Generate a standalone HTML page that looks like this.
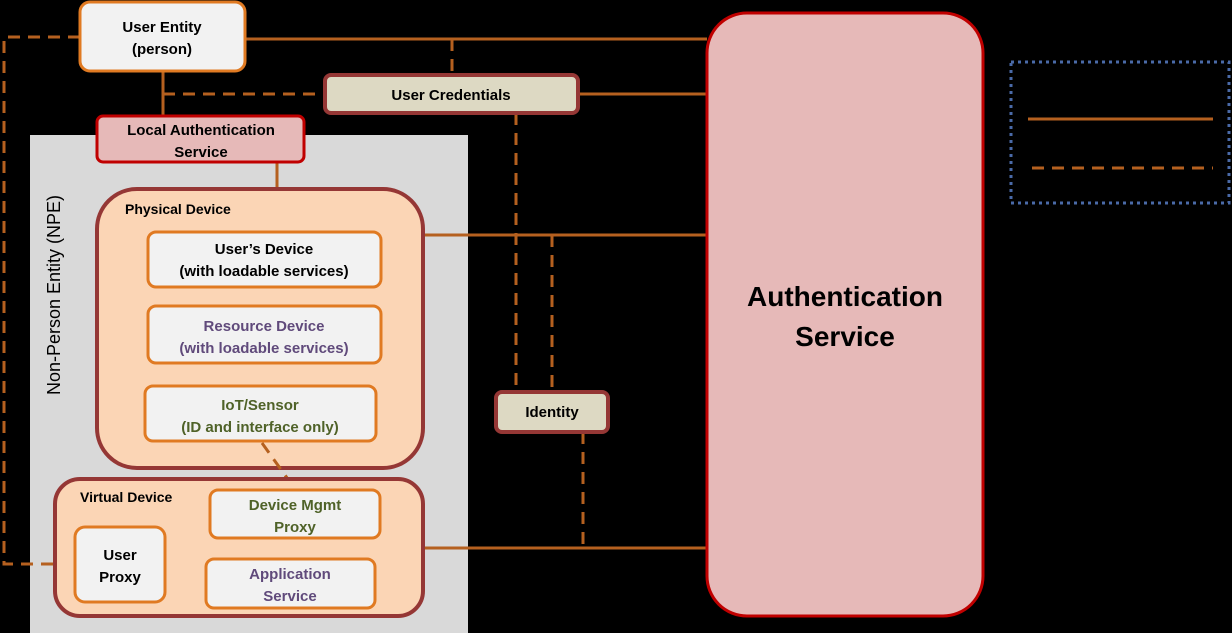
<!DOCTYPE html>
<html><head><meta charset="utf-8"><style>
html,body{margin:0;padding:0;background:#000;}
svg{display:block;}
text{font-family:"Liberation Sans",sans-serif;font-weight:bold;}
</style></head><body>
<svg width="1232" height="633" viewBox="0 0 1232 633" xmlns="http://www.w3.org/2000/svg">
<rect width="1232" height="633" fill="#000"/>
<!-- gray NPE -->
<rect x="30" y="135" width="438" height="498" fill="#d9d9d9"/>
<!-- lines -->
<g stroke="#b5601f" stroke-width="3" fill="none">
<line x1="245" y1="39" x2="707" y2="39"/>
<line x1="163" y1="71" x2="163" y2="116"/>
<line x1="578" y1="94" x2="707" y2="94"/>
<line x1="277" y1="162" x2="277" y2="232"/>
<line x1="423" y1="235" x2="707" y2="235"/>
<line x1="423" y1="548" x2="707" y2="548"/>
<line x1="1028" y1="119" x2="1213" y2="119"/>
</g>
<g stroke="#b5601f" stroke-width="3" fill="none" stroke-dasharray="12,8">
<line x1="452" y1="39" x2="452" y2="75"/>
<line x1="163" y1="94" x2="325" y2="94"/>
<polyline points="80,37 4,37 4,564 75,564"/>
<line x1="516" y1="113" x2="516" y2="392"/>
<line x1="552" y1="235" x2="552" y2="392"/>
<line x1="583" y1="432" x2="583" y2="548"/>
<line x1="262" y1="443" x2="292" y2="485"/>
<line x1="1032" y1="168" x2="1213" y2="168"/>
</g>
<!-- legend -->
<rect x="1011" y="62" width="218" height="141" fill="none" stroke="#4a6aa8" stroke-width="3" stroke-dasharray="3,4"/>
<!-- Auth service -->
<rect x="707" y="13" width="276" height="603" rx="40" fill="#e6b9b8" stroke="#c00000" stroke-width="3"/>
<text x="845" y="306" font-size="28" text-anchor="middle" fill="#000">Authentication</text>
<text x="845" y="346" font-size="28" text-anchor="middle" fill="#000">Service</text>
<!-- User Entity -->
<rect x="80" y="2" width="165" height="69" rx="10" fill="#f2f2f2" stroke="#e07a22" stroke-width="3"/>
<text x="162" y="32" font-size="15" text-anchor="middle">User Entity</text>
<text x="162" y="54" font-size="15" text-anchor="middle">(person)</text>
<!-- User Credentials -->
<rect x="325" y="75" width="253" height="38" rx="6" fill="#ddd9c3" stroke="#953735" stroke-width="4"/>
<text x="451" y="100" font-size="15" text-anchor="middle">User Credentials</text>
<!-- Local Auth -->
<rect x="97" y="116" width="207" height="46" rx="6" fill="#e6b9b8" stroke="#c00000" stroke-width="3"/>
<text x="201" y="135" font-size="15" text-anchor="middle">Local Authentication</text>
<text x="201" y="157" font-size="15" text-anchor="middle">Service</text>
<!-- NPE label -->
<text transform="translate(60,295) rotate(-90)" font-size="18" font-weight="normal" text-anchor="middle" style="font-weight:normal">Non-Person Entity (NPE)</text>
<!-- Physical Device -->
<rect x="97" y="189" width="326" height="279" rx="40" fill="#fbd5b5" stroke="#953735" stroke-width="4"/>
<text x="125" y="214" font-size="14">Physical Device</text>
<rect x="148" y="232" width="233" height="55" rx="8" fill="#f2f2f2" stroke="#e07a22" stroke-width="3"/>
<text x="264" y="254" font-size="15" text-anchor="middle">User’s Device</text>
<text x="264" y="276" font-size="15" text-anchor="middle">(with loadable services)</text>
<rect x="148" y="306" width="233" height="57" rx="8" fill="#f2f2f2" stroke="#e07a22" stroke-width="3"/>
<text x="264" y="331" font-size="15" text-anchor="middle" fill="#604a7b">Resource Device</text>
<text x="264" y="353" font-size="15" text-anchor="middle" fill="#604a7b">(with loadable services)</text>
<rect x="145" y="386" width="231" height="55" rx="8" fill="#f2f2f2" stroke="#e07a22" stroke-width="3"/>
<text x="260" y="410" font-size="15" text-anchor="middle" fill="#4f6228">IoT/Sensor</text>
<text x="260" y="432" font-size="15" text-anchor="middle" fill="#4f6228">(ID and interface only)</text>
<!-- diag over -->
<line x1="262" y1="443" x2="292" y2="485" stroke="#b5601f" stroke-width="3" stroke-dasharray="12,8"/>
<!-- Virtual device -->
<rect x="55" y="479" width="368" height="137" rx="25" fill="#fbd5b5" stroke="#953735" stroke-width="4"/>
<text x="80" y="502" font-size="14">Virtual Device</text>
<rect x="210" y="490" width="170" height="48" rx="8" fill="#f2f2f2" stroke="#e07a22" stroke-width="3"/>
<text x="295" y="510" font-size="15" text-anchor="middle" fill="#4f6228">Device Mgmt</text>
<text x="295" y="532" font-size="15" text-anchor="middle" fill="#4f6228">Proxy</text>
<rect x="75" y="527" width="90" height="75" rx="10" fill="#f2f2f2" stroke="#e07a22" stroke-width="3"/>
<text x="120" y="560" font-size="15" text-anchor="middle">User</text>
<text x="120" y="582" font-size="15" text-anchor="middle">Proxy</text>
<rect x="206" y="559" width="169" height="49" rx="8" fill="#f2f2f2" stroke="#e07a22" stroke-width="3"/>
<text x="290" y="579" font-size="15" text-anchor="middle" fill="#604a7b">Application</text>
<text x="290" y="601" font-size="15" text-anchor="middle" fill="#604a7b">Service</text>
<!-- Identity -->
<rect x="496" y="392" width="112" height="40" rx="6" fill="#ddd9c3" stroke="#953735" stroke-width="4"/>
<text x="552" y="417" font-size="15" text-anchor="middle">Identity</text>
</svg>
</body></html>
